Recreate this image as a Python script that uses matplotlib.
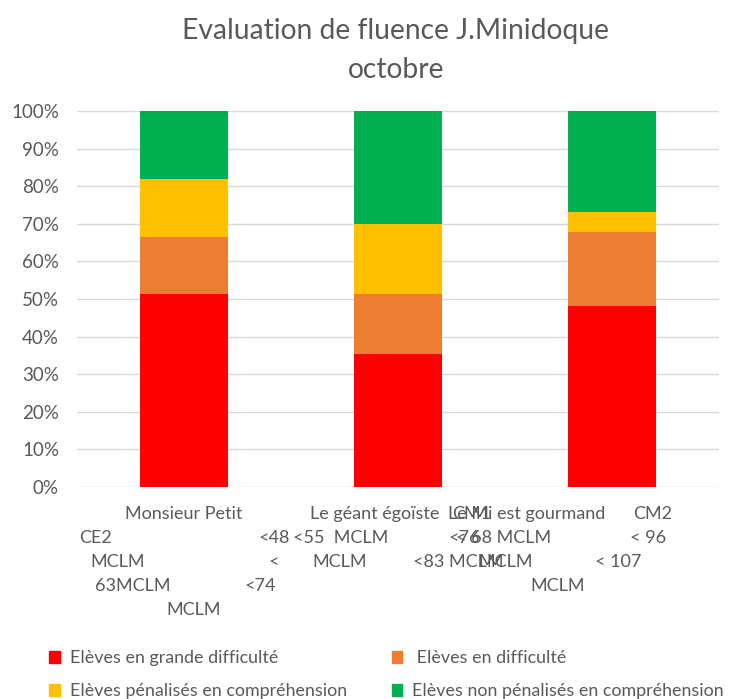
import matplotlib
matplotlib.use('Agg')
import matplotlib.pyplot as plt
from matplotlib.patches import Patch
from matplotlib.ticker import PercentFormatter

plt.rcParams['font.family'] = ['Lato', 'DejaVu Sans']

# ============ données ============
categories = ['Monsieur Petit CE2 <48 MCLM < 63MCLM <74 MCLM',
              'Le géant égoïste CM1 <55 MCLM <76 MCLM <83 MCLM',
              'Le Mi est gourmand CM2 < 68 MCLM < 96 MCLM < 107 MCLM']
series_names = ['Elèves en grande difficulté',
                ' Elèves en difficulté',
                'Elèves pénalisés en compréhension',
                'Elèves non pénalisés en compréhension']
grande_difficulte = [51.2, 35.5, 48.2]
difficulte = [15.4, 15.8, 19.5]
penalises = [15.3, 18.6, 5.4]
non_penalises = [18.1, 30.1, 26.9]
colors = ['#FF0000', '#ED7D31', '#FFC000', '#00B050']

# morceaux d'étiquettes (texte, x en pixels, ligne) - le retour à la ligne d'Excel se chevauche
label_pieces = [
    ('Monsieur Petit', 125, 0), ('CE2', 79, 1), ('<48', 258, 1), ('MCLM', 90, 2),
    ('<', 268, 2), ('63MCLM', 95, 3), ('<74', 245, 3), ('MCLM', 166, 4),
    ('Le géant égoïste', 310, 0), ('CM1', 452, 0), ('<55  MCLM', 293, 1),
    ('<76', 448, 1), ('MCLM', 312, 2), ('<83 MCLM', 413, 2),
    ('Le Mi est gourmand', 448, 0), ('CM2', 633, 0), ('< 68 MCLM', 456, 1),
    ('< 96', 630, 1), ('MCLM', 478, 2), ('< 107', 595, 2), ('MCLM', 530, 3),
]
row_y = [514, 538, 562, 586, 610]

W, H = 742, 699
fig = plt.figure(figsize=(W / 100, H / 100), dpi=100)
ax = fig.add_axes([77 / W, 1 - 487 / H, 642 / W, 376 / H])

x = range(len(categories))
bottom = [0, 0, 0]
for vals, col in zip([grande_difficulte, difficulte, penalises, non_penalises], colors):
    ax.bar(x, vals, width=0.41, bottom=bottom, color=col, zorder=3)
    bottom = [b + v for b, v in zip(bottom, vals)]

ax.set_xlim(-0.5, 2.5)
ax.set_ylim(0, 100)
ax.set_yticks(range(0, 101, 10))
ax.yaxis.set_major_formatter(PercentFormatter(decimals=0))
ax.grid(axis='y', color='#D9D9D9', linewidth=1, zorder=0)
ax.set_xticks([])
ax.tick_params(axis='y', length=0, pad=13, labelsize=13.5, labelcolor='#595959')
for s in ax.spines.values():
    s.set_visible(False)

gray = '#595959'
fig.text(396 / W, 1 - 31 / H, 'Evaluation de fluence J.Minidoque', ha='center', va='center',
         fontsize=20.3, color=gray)
fig.text(396 / W, 1 - 70 / H, 'octobre', ha='center', va='center', fontsize=20.3, color=gray)

for txt, px, row in label_pieces:
    fig.text(px / W, 1 - row_y[row] / H, txt, ha='left', va='center', fontsize=13, color=gray)

handles = [Patch(color=c) for c in colors]
order = [0, 2, 1, 3]
fig.legend([handles[i] for i in order], [series_names[i] for i in order],
           ncol=2, loc='upper left', bbox_to_anchor=(42 / W, 1 - 643 / H),
           frameon=False, fontsize=12.9, labelcolor=gray,
           handlelength=0.6, handleheight=0.6, handletextpad=0.55,
           columnspacing=2.5, labelspacing=0.95, borderaxespad=0)

fig.savefig('out.png', dpi=100)
